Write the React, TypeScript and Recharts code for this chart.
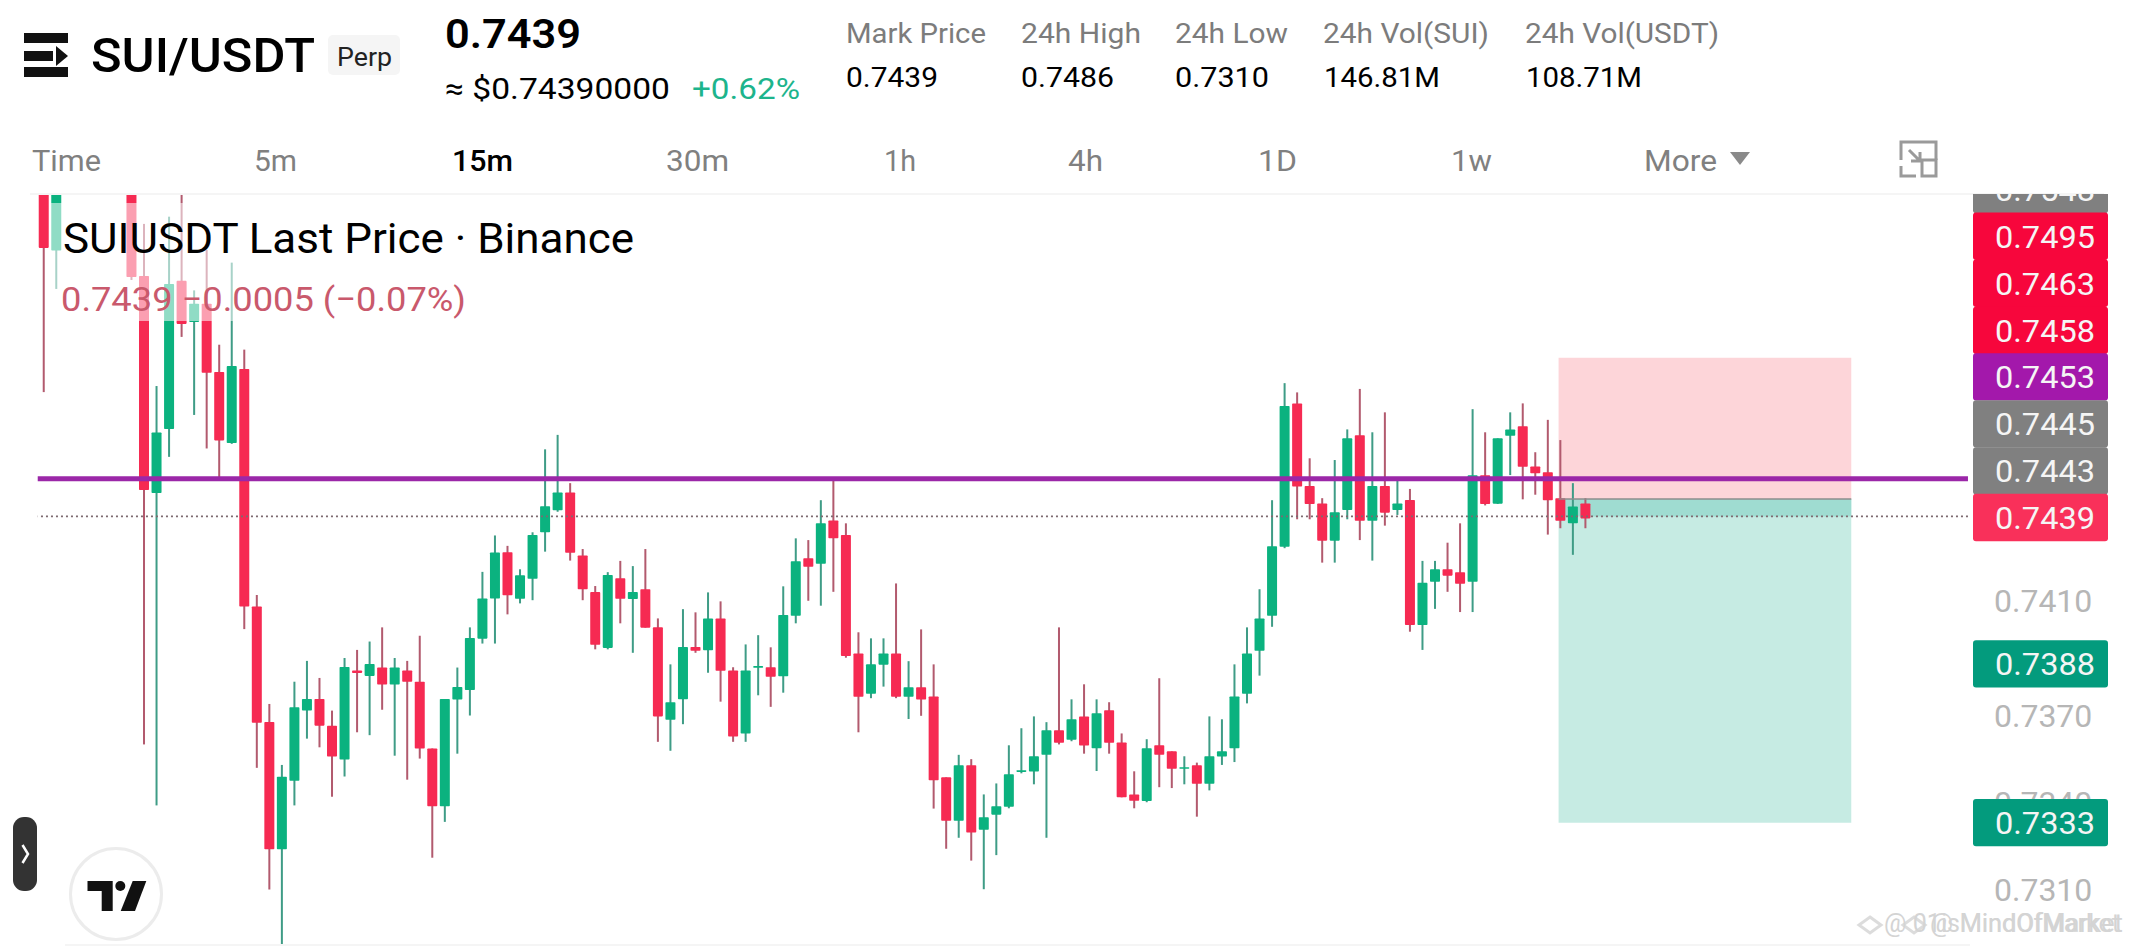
import {
  Bar,
  ComposedChart,
  ReferenceArea,
  ReferenceLine,
  XAxis,
  YAxis,
} from "recharts";

// prices in units of 0.00001. null = candle above the visible pane
const opens = [
  75520, 75310, null, null, null, null, null, 75560, 75222, 74471,
  74692, 75205, 75063, 75126, 74890, 74644, 74900, 74078, 73679, 73238,
  73475, 73718, 73758, 73666, 73549, 73857, 73838, 73867, 73808, 73857,
  73818, 73587, 73387, 73756, 73789, 73967, 74106, 74266, 74105, 74174,
  74335, 74411, 74473, 74255, 74128, 73935, 74176, 74104, 74138, 74006,
  73686, 73757, 73938, 73927, 74037, 73857, 73639, 73866, 73868, 73837,
  74046, 74245, 74226, 74376, 74326, 73916, 73776, 73877, 73916, 73766,
  73799, 73767, 73487, 73337, 73529, 73306, 73358, 73385, 73506, 73507,
  73565, 73650, 73617, 73698, 73588, 73719, 73608, 73428, 73405, 73598,
  73577, 73517, 73529, 73465, 73559, 73588, 73776, 73925, 74046, 74285,
  74781, 74495, 74435, 74306, 74412, 74671, 74375, 74495, 74412, 74447,
  74014, 74164, 74207, 74197, 74164, 74532, 74434, 74669, 74702, 74563,
  74543, 74453, 74366, 74435,
];
const closes = [
  75319, 75530, null, null, null, null, null, 75218, 74481, 74680,
  75194, 75056, 75126, 74887, 74653, 74910, 74078, 73676, 73238, 73489,
  73730, 73758, 73666, 73559, 73869, 73848, 73879, 73808, 73867, 73818,
  73587, 73387, 73758, 73800, 73969, 74106, 74265, 74117, 74186, 74326,
  74425, 74473, 74264, 74138, 73946, 74187, 74105, 74128, 74005, 73698,
  73747, 73938, 73925, 74037, 73856, 73628, 73857, 73872, 73835, 74049,
  74235, 74216, 74366, 74314, 73907, 73766, 73878, 73916, 73766, 73799,
  73756, 73477, 73337, 73529, 73296, 73349, 73387, 73498, 73512, 73560,
  73650, 73607, 73688, 73597, 73709, 73607, 73418, 73406, 73588, 73565,
  73517, 73522, 73465, 73560, 73577, 73767, 73916, 74037, 74287, 74772,
  74493, 74433, 74306, 74404, 74660, 74375, 74495, 74403, 74435, 74014,
  74160, 74207, 74185, 74157, 74532, 74433, 74660, 74691, 74562, 74539,
  74446, 74375, 74424, 74383,
];
const highs = [
  75560, 75570, null, null, null, null, null, 75600, 75402, 74841,
  75427, 75520, 75172, 75312, 74984, 75268, 74967, 74118, 73741, 73530,
  73818, 73890, 73831, 73718, 73900, 73928, 73957, 74006, 73900, 73890,
  73977, 73587, 73758, 73867, 74006, 74198, 74324, 74288, 74207, 74335,
  74622, 74672, 74505, 74277, 74149, 74197, 74236, 74218, 74277, 74037,
  73878, 74069, 74058, 74127, 74096, 73868, 73947, 73979, 73937, 74148,
  74314, 74308, 74446, 74522, 74366, 73989, 73968, 73968, 74158, 73889,
  73999, 73878, 73487, 73565, 73550, 73428, 73466, 73598, 73657, 73698,
  73678, 74006, 73757, 73809, 73757, 73747, 73639, 73508, 73619, 73830,
  73577, 73560, 73538, 73698, 73688, 73878, 74006, 74138, 74446, 74851,
  74819, 74591, 74453, 74585, 74691, 74831, 74681, 74750, 74525, 74485,
  74236, 74236, 74299, 74366, 74761, 74681, 74660, 74750, 74781, 74612,
  74724, 74654, 74505, 74453,
];
const lows = [
  74820, 75177, null, null, null, null, null, 75208, 73601, 73390,
  74596, 75011, 74741, 74625, 74516, 74641, 74000, 73520, 73099, 72902,
  73390, 73621, 73591, 73420, 73490, 73643, 73633, 73721, 73562, 73479,
  73552, 73209, 73333, 73569, 73701, 73950, 73950, 74051, 74089, 74100,
  74268, 74406, 74237, 74100, 73930, 73930, 74020, 73918, 74005, 73610,
  73579, 73671, 73918, 73849, 73749, 73610, 73610, 73771, 73731, 73780,
  74020, 74098, 74081, 74129, 73901, 73643, 73761, 73801, 73761, 73689,
  73700, 73379, 73240, 73278, 73199, 73100, 73218, 73380, 73501, 73463,
  73278, 73601, 73612, 73569, 73509, 73569, 73418, 73380, 73401, 73453,
  73450, 73463, 73351, 73442, 73530, 73540, 73743, 73839, 74008, 74280,
  74380, 74380, 74230, 74230, 74380, 74308, 74237, 74358, 74395, 73991,
  73928, 74070, 74129, 74059, 74059, 74428, 74433, 74533, 74449, 74465,
  74327, 74349, 74257, 74349,
];

const SLOTS = 154; // candles plus the empty room to the right of the last one
const priceTicks = [0.741, 0.737, 0.734, 0.731];
const LAST_PRICE = 0.7439;
const ALERT_PRICE = 0.7452;
const TARGET_PRICE = 0.74939;
const ENTRY_PRICE = 0.7445;
const STOP_PRICE = 0.7333;
const TOOL_START = 120.55;
const TOOL_END = 143.75;

const statLabels = ["Mark Price", "24h High", "24h Low", "24h Vol(SUI)", "24h Vol(USDT)"];
const statValues = ["0.7439", "0.7486", "0.7310", "146.81M", "108.71M"];
const statLabelBoxes = [[846, 140], [1021, 120], [1175, 113], [1323, 166], [1525, 194]];
const statValueBoxes = [[846, 92], [1021, 93], [1175, 94], [1324, 116], [1526, 116]];

const tabLabels = ["Time", "5m", "15m", "30m", "1h", "4h", "1D", "1w", "More"];
const tabBoxes = [[32, 69], [254, 43], [452, 61], [666, 63], [884, 32], [1068, 35], [1258, 39], [1451, 41], [1644, 73]];

const badgeLabels = ["0.7548", "0.7495", "0.7463", "0.7458", "0.7453", "0.7445", "0.7443", "0.7439", "0.7388", "0.7333"];
const badgeColors = ["#808080", "#f7063c", "#f7063c", "#f7063c", "#a318ab", "#808080", "#808080", "#f9305a", "#039b7d", "#039b7d"];
const badgeCenters = [189.5, 236.3, 283.3, 330.4, 376.9, 423.9, 470.9, 517.5, 663.9, 822.6];

const rows = Array.from({ length: SLOTS }, (_, i) => ({
  index: i,
  open: opens[i] == null ? null : opens[i] / 100000,
  close: closes[i] == null ? null : closes[i] / 100000,
  high: highs[i] == null ? null : highs[i] / 100000,
  low: lows[i] == null ? null : lows[i] / 100000,
}));

const UP = "#0bb27f";
const DOWN = "#f62a52";
const UP_WICK = "#3f9c86";
const DOWN_WICK = "#b25a6e";

function Candle(props: any) {
  const { x, y, width, height, payload } = props;
  if (payload.open == null) return null;
  const { open, close, high, low } = payload;
  const perUnit = Math.abs(height) / (high - low);
  const up = close >= open;
  const cx = x + width / 2;
  const top = y + (high - Math.max(open, close)) * perUnit;
  const bodyHeight = Math.max(Math.abs(open - close) * perUnit, 1.5);
  return (
    <g>
      <rect x={cx - 1} y={y} width={2} height={Math.abs(height)} fill={up ? UP_WICK : DOWN_WICK} />
      <rect x={x} y={top} width={width} height={bodyHeight} rx={0.8} fill={up ? UP : DOWN} />
    </g>
  );
}

function T({ x, y, w, size, fill = "#000", weight = 400, children }: any) {
  return (
    <text
      x={x}
      y={y}
      textLength={w}
      lengthAdjust="spacingAndGlyphs"
      fontFamily="Roboto"
      fontSize={size}
      fontWeight={weight}
      fill={fill}
    >
      {children}
    </text>
  );
}

function Overlay() {
  return (
    <svg width={2132} height={948} style={{ position: "absolute", left: 0, top: 0 }}>
      {/* symbol header */}
      <rect x={24} y={33} width={44} height={10} fill="#111" />
      <rect x={24} y={51} width={29} height={10} fill="#111" />
      <polygon points="56,46 68,56 56,66" fill="#111" />
      <rect x={24} y={67} width={44} height={10} fill="#111" />
      <T x={91} y={72} w={224} size={49} weight={500}>SUI/USDT</T>
      <rect x={328} y={35} width={72} height={40} rx={5} fill="#f5f5f5" />
      <T x={337} y={66} w={55} size={26} fill="#222">Perp</T>
      <T x={445} y={48} w={136} size={41} weight={600}>0.7439</T>
      <T x={445} y={99} w={225} size={30} weight={400}>≈ $0.74390000</T>
      <T x={692} y={99} w={108} size={30} weight={400} fill="#1db48c">+0.62%</T>
      {statLabels.map((s, i) => (
        <T key={s} x={statLabelBoxes[i][0]} y={43} w={statLabelBoxes[i][1]} size={28} fill="#7c7c7c">{s}</T>
      ))}
      {statValues.map((s, i) => (
        <T key={i} x={statValueBoxes[i][0]} y={87} w={statValueBoxes[i][1]} size={28}>{s}</T>
      ))}

      {/* interval tabs */}
      {tabLabels.map((s, i) => (
        <T key={s} x={tabBoxes[i][0]} y={170.5} w={tabBoxes[i][1]} size={30} weight={s === "15m" ? 500 : 400} fill={s === "15m" ? "#000" : "#808080"}>{s}</T>
      ))}
      <polygon points="1730,152 1750,152 1740,165" fill="#8a8a8a" />
      <path d="M1901 160 V142 H1936 V160 M1901 166 V176 H1916" fill="none" stroke="#9a9a9a" strokeWidth={3} />
      <rect x={1922} y={160} width={14} height={16} fill="none" stroke="#9a9a9a" strokeWidth={3} />
      <path d="M1909 150 L1920 161 M1920 152 V161 H1911" fill="none" stroke="#9a9a9a" strokeWidth={3} />
      <line x1={30} y1={194} x2={2104} y2={194} stroke="#f5f5f5" strokeWidth={2} />
      <line x1={65} y1={945} x2={1970} y2={945} stroke="#f5f5f5" strokeWidth={2} />

      {/* legend, which washes out the candles behind it */}
      <rect x={50} y={203} width={430} height={118} fill="#fff" fillOpacity={0.55} />
      <T x={63} y={253} w={571} size={42}>SUIUSDT Last Price · Binance</T>
      <T x={61} y={311} w={405} size={34} fill="#c9596c">0.7439 −0.0005 (−0.07%)</T>

      {/* price badges */}
      <svg x={1973} y={194} width={135} height={754} viewBox="1973 194 135 754">
        {badgeLabels.map((s, i) => (
          <g key={s}>
            <rect x={1973} y={badgeCenters[i] - 23.7} width={135} height={47.4} rx={3} fill={badgeColors[i]} />
            <T x={1995} y={badgeCenters[i] + 11.5} w={100} size={32} fill="#f5f5f5">{s}</T>
          </g>
        ))}
      </svg>

      {/* side button and logo */}
      <rect x={13} y={817} width={24} height={74} rx={11} fill="#333" />
      <path d="M22.5 845 L28 854 L22.5 863" fill="none" stroke="#fff" strokeWidth={2.5} />
      <circle cx={116} cy={894} r={45.5} fill="#fff" stroke="#ececec" strokeWidth={3} />
      <path d="M87.5 881 H112.7 V911 H101.7 V891 H87.5 Z" fill="#111" />
      <circle cx={120.3} cy={886} r={5} fill="#111" />
      <polygon points="132.7,881 146.3,881 135,911 120.7,911" fill="#111" />

      {/* watermark, two copies almost on top of each other */}
      <g opacity={0.5}>
        <polygon points="1870,917 1881,925 1870,933 1859,925" fill="none" stroke="#bbb" strokeWidth={3} />
        <polygon points="1914,917 1925,925 1914,933 1903,925" fill="none" stroke="#bbb" strokeWidth={3} />
        <T x={1884} y={932} w={236} size={25} fill="#aaa">@ 01isMindOfMarket</T>
        <T x={1930} y={932} w={193} size={25} fill="#aaa">@ MindOfMarket</T>
      </g>
    </svg>
  );
}

export default function App() {
  return (
    <div style={{ position: "absolute", left: 0, top: 0, width: 2132, height: 948, overflow: "hidden", background: "#fff" }}>
      <ComposedChart
        width={2132}
        height={948}
        data={rows}
        margin={{ top: 195, right: 0, bottom: 3, left: 37.73 }}
      >
        <XAxis dataKey="index" type="category" scale="band" hide />
        <XAxis xAxisId="tool" type="number" domain={[-0.5, SLOTS - 0.5]} allowDataOverflow hide />
        <YAxis
          orientation="right"
          width={164.03}
          domain={[0.72907, 0.75502]}
          allowDataOverflow
          ticks={priceTicks}
          interval={0}
          axisLine={false}
          tickLine={false}
          tickSize={0}
          tickMargin={26}
          tickFormatter={(v: number) => v.toFixed(4)}
          tick={{ fontFamily: "Roboto", fontSize: 32, fill: "#b6b6b6" }}
        />
        <ReferenceArea xAxisId="tool" x1={TOOL_START} x2={TOOL_END} y1={ENTRY_PRICE} y2={TARGET_PRICE} fill="#fdd5d9" fillOpacity={1} />
        <ReferenceArea xAxisId="tool" x1={TOOL_START} x2={TOOL_END} y1={STOP_PRICE} y2={ENTRY_PRICE} fill="#c6ebe3" fillOpacity={1} />
        <ReferenceArea xAxisId="tool" x1={TOOL_START} x2={TOOL_END} y1={LAST_PRICE} y2={ENTRY_PRICE} fill="#9fdcd1" fillOpacity={1} />
        <ReferenceLine
          xAxisId="tool"
          segment={[{ x: TOOL_START, y: ENTRY_PRICE }, { x: TOOL_END, y: ENTRY_PRICE }]}
          stroke="#8c8c8c"
          strokeWidth={1.5}
        />
        <ReferenceLine y={LAST_PRICE} stroke="#7d6a70" strokeWidth={1.8} strokeDasharray="2 3" />
        <ReferenceLine y={ALERT_PRICE} stroke="#9b27a8" strokeWidth={5} />
        <Bar
          dataKey={(d: any) => (d.high == null ? null : [d.low, d.high])}
          barSize={10}
          shape={Candle}
          isAnimationActive={false}
        />
      </ComposedChart>
      <Overlay />
    </div>
  );
}
